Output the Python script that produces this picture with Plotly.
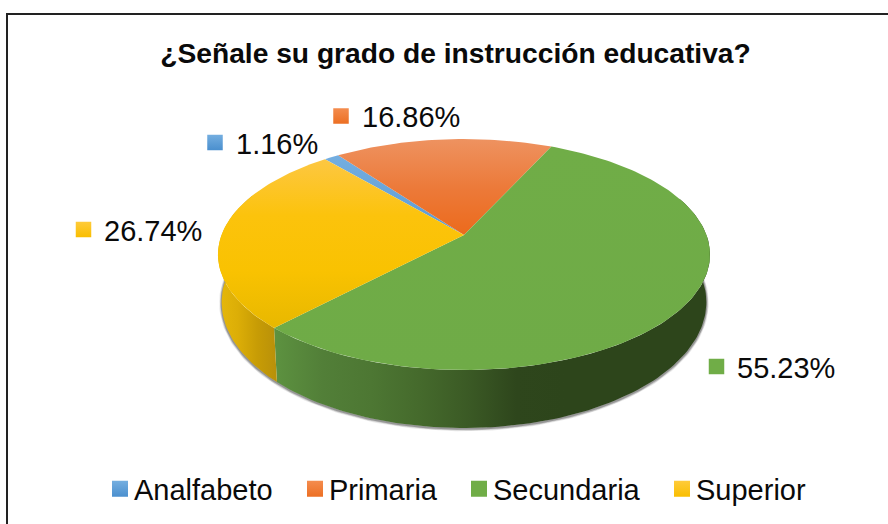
import numpy as np
import plotly.graph_objects as go

categories = ["Analfabeto", "Primaria", "Secundaria", "Superior"]
percentages = [1.16, 16.86, 55.23, 26.74]

# Pie geometry (pixel-based axes)
START_DEG = 319.7
APEX = (464, 235)
A, B, K = 112.2, 242.5, 0.169
SIDE_SX, SIDE_SY, SIDE_DY = 0.985, 1.09, 45.8


def rim(theta_deg, sx=1.0, sy=1.0, dy=0.0):
    t = np.radians(theta_deg)
    w = 1 + K * np.cos(t)
    return APEX[0] + sx * B * np.sin(t) / w, APEX[1] + dy - sy * A * np.cos(t) / w


def scale(stops):
    n = len(stops) - 1
    return [[i / n, c] for i, c in enumerate(stops)]


# colour stops listed from bottom to top of each wedge
top_grad = [
    ["#5b9bd5", "#74aee0"],
    ["#ec6a1c", "#ec7a3a", "#ee9260"],
    ["#6fab47", "#70ad47"],
    ["#e8b800", "#f9c201", "#fcc30c", "#fdc742"],
]
marker_col = ["#4a8fce", "#ec6f23", "#70ad47", "#f9be00"]
marker_top = ["#74aee0", "#f48c4e", "#70ad47", "#ffcb3a"]

edges = START_DEG + np.cumsum([0] + [p * 3.6 for p in percentages])
sec_end = edges[3] - 360

fig = go.Figure()

# soft shadow below the side wall
shadow_t = np.linspace(80, 282, 200)
for width, alpha in [(5, 0.10), (3.5, 0.18), (2, 0.30)]:
    sx, sy = rim(shadow_t, SIDE_SX, SIDE_SY, SIDE_DY + 0.8)
    fig.add_trace(go.Scatter(x=sx, y=sy, mode="lines", hoverinfo="skip", showlegend=False,
                             line=dict(color=f"rgba(40,40,40,{alpha})", width=width)))

# side walls: computed from the same slice boundaries
side_cfg = [
    (np.linspace(sec_end, 70, 120),
     ["#5d9240", "#527f38", "#4d7733", "#456a2c", "#3b5a25", "#2e461c", "#2d451b", "#2d451b", "#2d451b", "#2d451b"]),
    (np.linspace(sec_end, 292, 50),
     ["#e6b80a", "#dcae07", "#c79c05", "#b8900a"]),
]
for t, stops in side_cfg:
    x1, y1 = rim(t)
    x2, y2 = rim(t[::-1], SIDE_SX, SIDE_SY, SIDE_DY)
    xs = np.concatenate([x1, x2, x1[:1]])
    ys = np.concatenate([y1, y2, y1[:1]])
    fig.add_trace(go.Scatter(x=xs, y=ys, mode="lines", fill="toself", hoverinfo="skip", showlegend=False,
                             line=dict(width=0),
                             fillgradient=dict(type="horizontal", colorscale=scale(stops))))

# top-face wedges
for i, name in enumerate(categories):
    t = np.linspace(edges[i], edges[i + 1], max(4, int(percentages[i] * 3)))
    xr, yr = rim(t)
    xs = np.concatenate([[APEX[0]], xr, [APEX[0]]])
    ys = np.concatenate([[APEX[1]], yr, [APEX[1]]])
    fig.add_trace(go.Scatter(x=xs, y=ys, mode="lines", fill="toself", name=name, showlegend=False,
                             hovertemplate=f"{name}: {percentages[i]:.2f}%<extra></extra>",
                             line=dict(width=0),
                             fillgradient=dict(type="vertical", colorscale=scale(top_grad[i]))))

# data labels
label_mark_x = [215, 341, 716.5, 83.5]
label_mark_y = [142.5, 116, 366.5, 229.5]
label_text_x = [236, 362, 737, 104]
label_text_y = [146.5, 120, 371, 234]
for i in range(4):
    fig.add_trace(go.Scatter(
        x=[label_mark_x[i]], y=[label_mark_y[i]], mode="markers", showlegend=False, hoverinfo="skip",
        marker=dict(symbol="square", size=15.5, color=marker_top[i],
                    gradient=dict(type="vertical", color=marker_col[i]), line=dict(width=0))))
fig.add_trace(go.Scatter(
    x=label_text_x, y=label_text_y, mode="text", showlegend=False, hoverinfo="skip",
    text=[f"{p:.2f}%" for p in percentages], textposition="middle right",
    textfont=dict(family="Liberation Sans", size=29, color="#0a0a0a")))

# legend entries (one small legend each, so that each keeps its own place)
legend_ids = ["legend", "legend2", "legend3", "legend4"]
legend_text_x = [134, 329, 493, 696]
for i, name in enumerate(categories):
    fig.add_trace(go.Scatter(
        x=[None], y=[None], mode="markers", name=name, legend=legend_ids[i],
        showlegend=True,
        marker=dict(symbol="square", size=16, color=marker_top[i],
                    gradient=dict(type="vertical", color=marker_col[i]), line=dict(width=0))))

legends = {
    lid: dict(orientation="h", x=(tx - 40) / 888, xanchor="left", y=1 - 489 / 524, yanchor="middle",
              font=dict(family="Liberation Sans", size=29, color="#0a0a0a"),
              bgcolor="rgba(0,0,0,0)", itemclick=False, itemdoubleclick=False)
    for lid, tx in zip(legend_ids, legend_text_x)
}

fig.update_layout(
    width=888, height=524, margin=dict(l=0, r=0, t=0, b=0),
    paper_bgcolor="white", plot_bgcolor="white",
    xaxis=dict(range=[0, 888], visible=False, fixedrange=True),
    yaxis=dict(range=[524, 0], visible=False, fixedrange=True),
    title=dict(text="<b>¿Señale su grado de instrucción educativa?</b>",
               x=455.5 / 888, xanchor="center", y=1 - 53 / 524, yanchor="middle",
               font=dict(family="Liberation Sans", size=28.2, color="#0a0a0a")),
    shapes=[dict(type="rect", xref="x", yref="y", x0=7, y0=14, x1=900, y1=540,
                 line=dict(color="#222222", width=2))],
    **legends,
)

post = """
document.body.style.margin = '0';
document.querySelectorAll('.legendsymbols').forEach(function (g) {
  g.setAttribute('transform', 'translate(6,0)');
});
"""
fig.write_html("out.html", post_script=post, config={"displayModeBar": False})
